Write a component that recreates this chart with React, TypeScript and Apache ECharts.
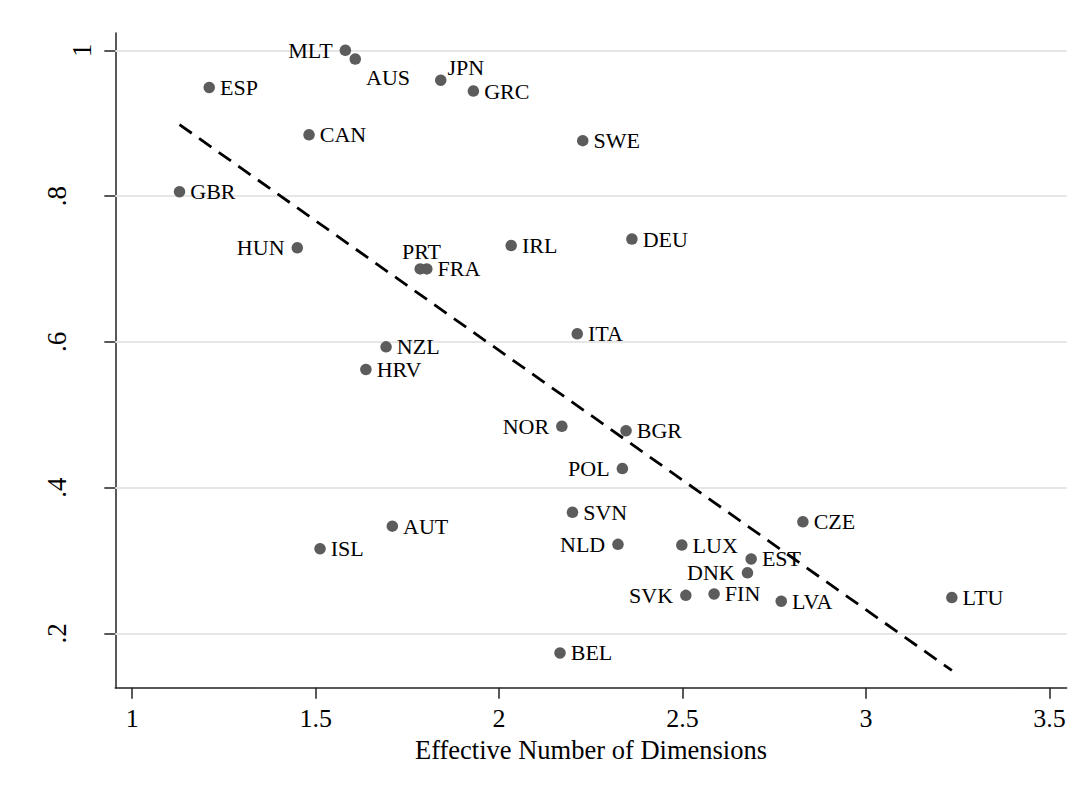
import React, { useEffect, useRef } from "react";
import * as echarts from "echarts";

const countries = [
  "MLT", "AUS", "JPN", "GRC", "ESP", "CAN", "SWE", "GBR", "HUN", "PRT", "FRA",
  "IRL", "DEU", "ITA", "NZL", "HRV", "NOR", "BGR", "POL", "SVN", "AUT", "ISL",
  "NLD", "LUX", "CZE", "EST", "DNK", "SVK", "FIN", "LVA", "LTU", "BEL",
];
const xVals = [
  1.581, 1.608, 1.841, 1.930, 1.210, 1.482, 2.228, 1.129, 1.450, 1.785, 1.803,
  2.033, 2.362, 2.213, 1.692, 1.637, 2.171, 2.346, 2.336, 2.200, 1.709, 1.512,
  2.324, 2.498, 2.828, 2.687, 2.677, 2.509, 2.586, 2.769, 3.234, 2.166,
];
const yVals = [
  1.000, 0.988, 0.959, 0.944, 0.949, 0.884, 0.876, 0.806, 0.729, 0.700, 0.700,
  0.732, 0.741, 0.611, 0.593, 0.562, 0.484, 0.478, 0.426, 0.366, 0.347, 0.316,
  0.322, 0.321, 0.353, 0.302, 0.283, 0.252, 0.254, 0.244, 0.249, 0.173,
];
const fitX = [1.129, 3.234];
const fitY = [0.898, 0.149];
const xTicks = [1, 1.5, 2, 2.5, 3, 3.5];
const yTicks = [0.2, 0.4, 0.6, 0.8, 1];
const xTitle = "Effective Number of Dimensions";

const leftLabeled = ["MLT", "HUN", "NOR", "POL", "NLD", "DNK", "SVK"];

const FONT = '"Liberation Serif", "Times New Roman", serif';

function labelFor(c: string): any {
  const base = { show: true, formatter: "{b}", color: "#000", opacity: 1, fontSize: 22, fontFamily: FONT };
  if (c === "AUS") return { ...base, position: [16.5, 24.5], align: "left", verticalAlign: "middle" };
  if (c === "JPN") return { ...base, position: [12.5, -6.5], align: "left", verticalAlign: "middle" };
  if (c === "PRT") return { ...base, position: [7, -12], align: "center", verticalAlign: "middle" };
  if (leftLabeled.includes(c)) return { ...base, position: "left", distance: 7 };
  return { ...base, position: "right", distance: 5 };
}

export default function App() {
  const ref = useRef<HTMLDivElement>(null);
  useEffect(() => {
    if (!ref.current) return;
    const chart = echarts.init(ref.current, null, { renderer: "svg" });
    const points = countries.map((c, i) => ({
      name: c,
      value: [xVals[i], yVals[i]],
      label: labelFor(c),
    }));
    chart.setOption({
      animation: false,
      backgroundColor: "#ffffff",
      grid: { left: 115.3, right: 17.3, top: 33, bottom: 103.3, containLabel: false },
      xAxis: {
        type: "value",
        min: 0.954,
        max: 3.547,
        name: xTitle,
        nameLocation: "middle",
        nameGap: 45,
        nameTextStyle: { fontFamily: FONT, fontSize: 26.5, color: "#000" },
        axisLine: { show: true, onZero: false, lineStyle: { color: "#222", width: 1.5 } },
        axisTick: { show: true, length: 11, customValues: xTicks, lineStyle: { color: "#222", width: 1.5 } },
        axisLabel: {
          show: true,
          customValues: xTicks,
          margin: 18,
          fontFamily: FONT,
          fontSize: 26,
          color: "#000",
          formatter: (v: number) => String(v),
        },
        splitLine: { show: false },
      },
      yAxis: {
        type: "value",
        min: 0.1253,
        max: 1.0237,
        axisLine: { show: true, onZero: false, lineStyle: { color: "#222", width: 1.5 } },
        axisTick: { show: true, length: 11, customValues: yTicks, lineStyle: { color: "#222", width: 1.5 } },
        axisLabel: {
          show: true,
          customValues: yTicks,
          rotate: 90,
          margin: 20,
          fontFamily: FONT,
          fontSize: 27,
          color: "#000",
          formatter: (v: number) =>
            v === 1 ? "{a|1}" : "{b|" + String(v).replace(/^0\./, ".") + "}",
          rich: {
            a: { fontFamily: FONT, fontSize: 27, color: "#000" },
            b: { fontFamily: FONT, fontSize: 27, color: "#000", padding: [0, 0, 25, 0] },
          },
        },
        splitLine: { show: false },
      },
      series: [
        {
          type: "scatter",
          data: [],
          z: 1,
          silent: true,
          markLine: {
            z: 1,
            silent: true,
            symbol: ["none", "none"],
            label: { show: false },
            emphasis: { disabled: true },
            lineStyle: { color: "#e6e6e6", width: 2, type: "solid" },
            data: yTicks.map((t) => ({ yAxis: t })),
          },
        },
        {
          type: "line",
          data: fitX.map((x, i) => [x, fitY[i]]),
          z: 2,
          symbol: "none",
          silent: true,
          lineStyle: { color: "#000", width: 2.8, type: [15, 9] },
        },
        {
          type: "scatter",
          data: points,
          z: 3,
          symbol: "circle",
          symbolSize: 11.5,
          itemStyle: { color: "#5c5c5c", opacity: 1 },
          silent: true,
        },
      ],
    });
    return () => chart.dispose();
  }, []);
  return (
    <div
      ref={ref}
      style={{ position: "absolute", left: 0, top: 0, width: 1084, height: 791 }}
    />
  );
}
